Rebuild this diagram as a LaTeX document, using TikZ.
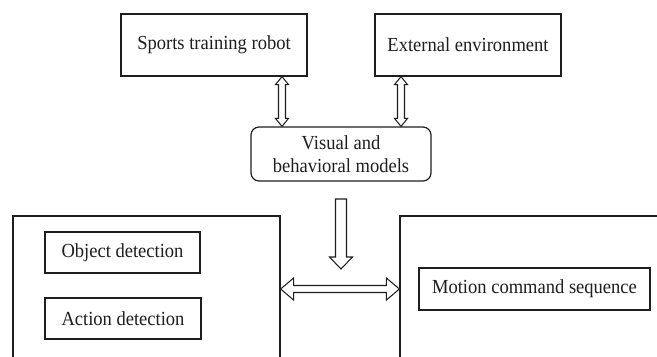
\documentclass[tikz,border=0pt]{standalone}
\usepackage{fontspec}
\setmainfont[FakeStretch=0.93]{Liberation Serif}
\usetikzlibrary{calc}
\definecolor{ink}{HTML}{1E1E1E}
\tikzset{
  box/.style={draw=ink, line width=1.2bp, inner sep=0pt, align=center, text=ink,
    font=\fontsize{20}{22.5}\selectfont},
  rbox/.style={box, rounded corners=8bp},
  frame/.style={draw=ink, line width=1.2bp, inner sep=0pt},
  blockarrow/.style={draw=ink, line width=1.05bp, fill=white, line join=miter},
}
\newcommand\vdblarrow[2]{%
  \draw[blockarrow] let \p1=(#1), \p2=(#2) in
    (\x1,\y1) -- (\x1+6.5bp,\y1-8bp) -- (\x1+3.5bp,\y1-8bp) -- (\x1+3.5bp,\y2+8bp)
    -- (\x1+6.5bp,\y2+8bp) -- (\x1,\y2) -- (\x1-6.5bp,\y2+8bp) -- (\x1-3.5bp,\y2+8bp)
    -- (\x1-3.5bp,\y1-8bp) -- (\x1-6.5bp,\y1-8bp) -- cycle;}
\begin{document}
\begin{tikzpicture}[x=1bp,y=-1bp]
\path[use as bounding box, clip] (0,0) rectangle (657,356);
\fill[white] (0,0) rectangle (657,356);
% top boxes
\node[box, minimum width=186bp, minimum height=62bp] (robot) at (214,45) {Sports training robot};
\node[box, minimum width=186bp, minimum height=62bp] (env) at (468,45) {External environment};
\node[rbox, minimum width=180bp, minimum height=54bp] (vis) at (341,154) {Visual and\\behavioral models};
% big frames (open at bottom / right)
\node[frame, minimum width=267bp, minimum height=184bp] (leftbig) at (146.5,308) {};
\node[frame, minimum width=300bp, minimum height=184bp] (rightbig) at (550,308) {};
% inner boxes
\node[box, minimum width=155bp, minimum height=41bp] (obj) at (122.5,252.5) {Object detection};
\node[box, minimum width=156bp, minimum height=41bp] (act) at (123,318.5) {Action detection};
\node[box, minimum width=231bp, minimum height=42bp] (motion) at (534.5,289) {Motion command sequence};
% top double arrows
\path ([xshift=-59bp]vis.north) coordinate (v1) ([xshift=60bp]vis.north) coordinate (v2);
\coordinate (r1) at (v1 |- robot.south);
\coordinate (e1) at (v2 |- env.south);
\vdblarrow{r1}{v1}
\vdblarrow{e1}{v2}
% down arrow
\coordinate (dtop) at (341,199);
\coordinate (dtip) at (341,269);
\draw[blockarrow] let \p1=(dtop), \p2=(dtip) in
  (\x1-5.5bp,\y1) -- (\x1+5.5bp,\y1) -- (\x1+5.5bp,\y2+12bp) -- (\x1+11.5bp,\y2+12bp)
  -- (\x2,\y2) -- (\x1-11.5bp,\y2+12bp) -- (\x1-5.5bp,\y2+12bp) -- cycle;
% horizontal double arrow
\coordinate (hl) at (leftbig.east |- motion.west);
\coordinate (hr) at (rightbig.west |- motion.west);
\draw[blockarrow] let \p1=(hl), \p2=(hr) in
  (\x1,\y1) -- (\x1+13bp,\y1+11bp) -- (\x1+13bp,\y1+3.5bp) -- (\x2-13bp,\y1+3.5bp)
  -- (\x2-13bp,\y1+11bp) -- (\x2,\y2) -- (\x2-13bp,\y1-11bp) -- (\x2-13bp,\y1-3.5bp)
  -- (\x1+13bp,\y1-3.5bp) -- (\x1+13bp,\y1-11bp) -- cycle;
\end{tikzpicture}
\end{document}
